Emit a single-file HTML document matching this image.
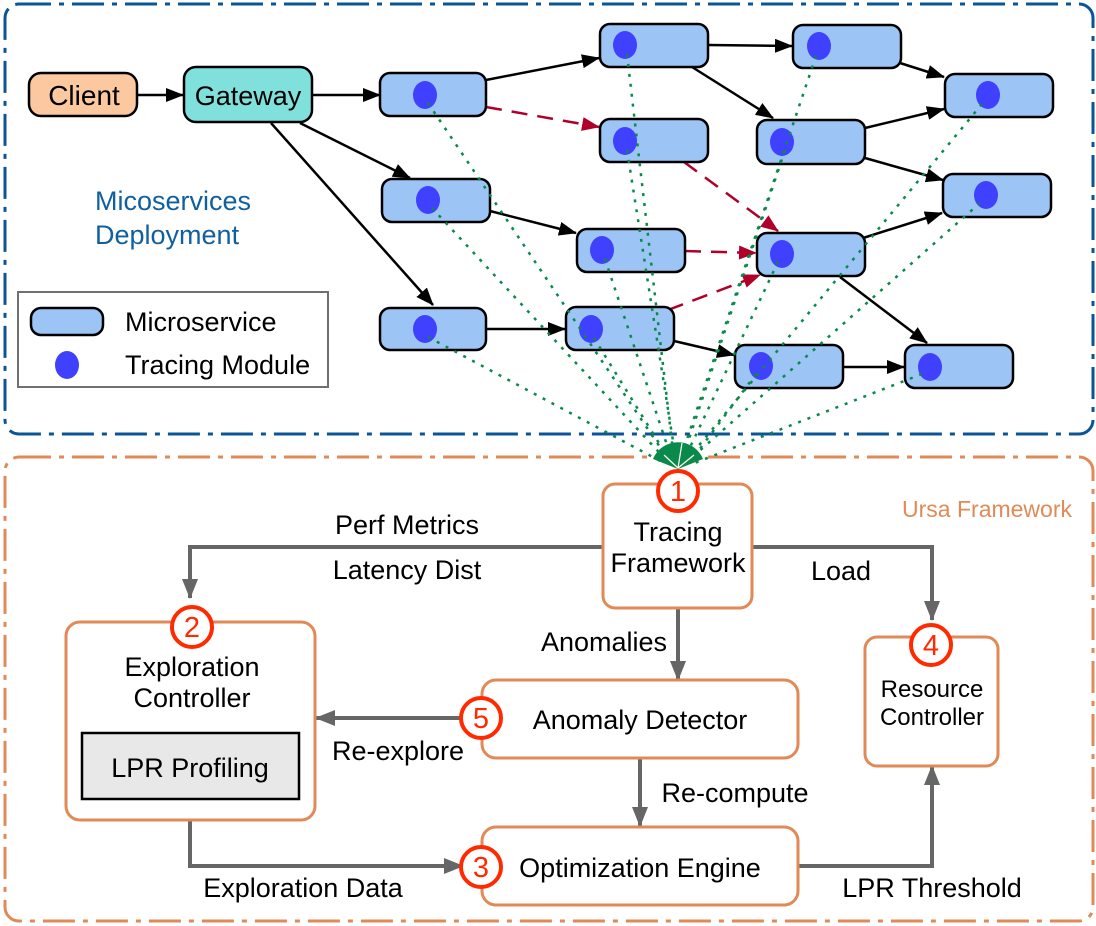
<!DOCTYPE html>
<html><head><meta charset="utf-8"><style>
html,body{margin:0;padding:0;background:#fff}
svg{display:block}
text{font-family:"Liberation Sans",sans-serif}
</style></head><body>
<svg width="1096" height="926" viewBox="0 0 1096 926" xmlns="http://www.w3.org/2000/svg">
<defs>
<marker id="abk" markerWidth="18" markerHeight="14" refX="17" refY="7" orient="auto" markerUnits="userSpaceOnUse"><path d="M0,0 L18,7 L0,14z" fill="#000"/></marker>
<marker id="ar" markerWidth="18" markerHeight="14" refX="17" refY="7" orient="auto" markerUnits="userSpaceOnUse"><path d="M0,0 L18,7 L0,14z" fill="#b0002a"/></marker>
<marker id="ag" markerWidth="20" markerHeight="16" refX="19" refY="8" orient="auto" markerUnits="userSpaceOnUse"><path d="M0,0 L20,8 L0,16z" fill="#666"/></marker>
</defs>
<rect x="5" y="4" width="1088" height="430" rx="14" fill="none" stroke="#0b5596" stroke-width="3" stroke-dasharray="32 8 5 8"/>
<rect x="5" y="457" width="1088" height="464" rx="14" fill="none" stroke="#e08a58" stroke-width="3" stroke-dasharray="32 8 5 8"/>

<g stroke="#000" stroke-width="2.5" fill="none" marker-end="url(#abk)">
<line x1="138" y1="95" x2="183" y2="95"/>
<line x1="312" y1="95" x2="380" y2="95"/>
<line x1="300" y1="123" x2="410" y2="178"/>
<line x1="271" y1="123" x2="433" y2="305"/>
<line x1="486" y1="80" x2="599" y2="58"/>
<line x1="708" y1="45" x2="792" y2="46"/>
<line x1="692" y1="67" x2="773" y2="118"/>
<line x1="900" y1="63" x2="944" y2="77"/>
<line x1="865" y1="128" x2="944" y2="109"/>
<line x1="865" y1="158" x2="943" y2="180"/>
<line x1="490" y1="211" x2="576" y2="233"/>
<line x1="486" y1="329" x2="565" y2="329"/>
<line x1="674" y1="341" x2="734" y2="355"/>
<line x1="863" y1="238" x2="942" y2="213"/>
<line x1="840" y1="277" x2="927" y2="343"/>
<line x1="843" y1="367" x2="904" y2="367"/>
</g>
<g stroke="#b0002a" stroke-width="2.5" fill="none" stroke-dasharray="16 10" marker-end="url(#ar)">
<line x1="486" y1="107" x2="599" y2="127"/>
<line x1="684" y1="162" x2="778" y2="231"/>
<line x1="685" y1="251" x2="756" y2="253"/>
<line x1="668" y1="310" x2="760" y2="275"/>
</g>

<rect x="29" y="73" width="108" height="43" rx="12" fill="#fcc8a0" stroke="#000" stroke-width="2.5"/>
<text x="84" y="105" font-size="28" text-anchor="middle">Client</text>
<rect x="184" y="67" width="128" height="55" rx="12" fill="#80e0dc" stroke="#000" stroke-width="2.5"/>
<text x="248" y="105" font-size="27" text-anchor="middle">Gateway</text>

<g stroke="#000" stroke-width="2.5" fill="#9cc5f5">
<rect x="380" y="73" width="106" height="43" rx="10"/>
<rect x="382" y="179" width="108" height="43" rx="10"/>
<rect x="380" y="308" width="106" height="42" rx="10"/>
<rect x="600" y="24" width="108" height="43" rx="10"/>
<rect x="600" y="119" width="108" height="43" rx="10"/>
<rect x="577" y="229" width="108" height="43" rx="10"/>
<rect x="566" y="307" width="108" height="43" rx="10"/>
<rect x="793" y="25" width="108" height="43" rx="10"/>
<rect x="757" y="120" width="108" height="44" rx="10"/>
<rect x="757" y="233" width="108" height="43" rx="10"/>
<rect x="945" y="74" width="108" height="43" rx="10"/>
<rect x="943" y="174" width="108" height="43" rx="10"/>
<rect x="735" y="345" width="108" height="43" rx="10"/>
<rect x="905" y="345" width="108" height="43" rx="10"/>
</g>
<g fill="#4040ff">
<ellipse cx="425" cy="95" rx="12" ry="14"/>
<ellipse cx="428" cy="200" rx="12" ry="14"/>
<ellipse cx="425" cy="329" rx="12" ry="14"/>
<ellipse cx="625" cy="45" rx="12" ry="14"/>
<ellipse cx="625" cy="141" rx="12" ry="14"/>
<ellipse cx="602" cy="250" rx="12" ry="14"/>
<ellipse cx="591" cy="329" rx="12" ry="14"/>
<ellipse cx="819" cy="46" rx="12" ry="14"/>
<ellipse cx="782" cy="142" rx="12" ry="14"/>
<ellipse cx="782" cy="254" rx="12" ry="14"/>
<ellipse cx="988" cy="95" rx="12" ry="14"/>
<ellipse cx="986" cy="195" rx="12" ry="14"/>
<ellipse cx="761" cy="366" rx="12" ry="14"/>
<ellipse cx="930" cy="367" rx="12" ry="14"/>
</g>
<g stroke="#0a8a4a" stroke-width="2.5" fill="none" stroke-dasharray="3 7">
<line x1="428" y1="103" x2="670" y2="462"/>
<line x1="432" y1="208" x2="668" y2="462"/>
<line x1="428" y1="337" x2="664" y2="463"/>
<line x1="627" y1="54" x2="674" y2="460"/>
<line x1="627" y1="150" x2="676" y2="460"/>
<line x1="605" y1="259" x2="672" y2="460"/>
<line x1="594" y1="338" x2="670" y2="461"/>
<line x1="816" y1="56" x2="680" y2="460"/>
<line x1="785" y1="150" x2="682" y2="460"/>
<line x1="778" y1="262" x2="684" y2="460"/>
<line x1="982" y1="104" x2="686" y2="461"/>
<line x1="980" y1="203" x2="688" y2="461"/>
<line x1="756" y1="374" x2="690" y2="462"/>
<line x1="922" y1="374" x2="692" y2="464"/>
</g>
<path d="M678,469 L653,459 A27,27 0 0 1 703,459 Z" fill="#0a8a4a"/>
<g stroke="#fff" stroke-width="1.2"><line x1="678" y1="468" x2="682" y2="443"/><line x1="678" y1="468" x2="664" y2="455"/><line x1="678" y1="468" x2="694" y2="455"/></g>

<text x="95" y="210" font-size="27" fill="#1060a0">Micoservices</text>
<text x="95" y="244" font-size="27" fill="#1060a0">Deployment</text>
<rect x="18" y="292" width="310" height="95" fill="#fff" stroke="#707070" stroke-width="2"/>
<rect x="31" y="308" width="72" height="27" rx="10" fill="#9cc5f5" stroke="#000" stroke-width="2.5"/>
<ellipse cx="67" cy="365" rx="12" ry="14" fill="#4040ff"/>
<text x="125" y="331" font-size="27">Microservice</text>
<text x="125" y="374" font-size="27">Tracing Module</text>

<g stroke="#666" stroke-width="4" fill="none">
<polyline points="602,547 190,547 190,598" marker-end="url(#ag)"/>
<polyline points="752,547 932,547 932,620" marker-end="url(#ag)"/>
<line x1="678" y1="608" x2="678" y2="680" marker-end="url(#ag)"/>
<line x1="463" y1="718" x2="316" y2="718" marker-end="url(#ag)"/>
<line x1="640" y1="758" x2="640" y2="826" marker-end="url(#ag)"/>
<polyline points="190,820 190,866 463,866" marker-end="url(#ag)"/>
<polyline points="798,866 932,866 932,766" marker-end="url(#ag)"/>
</g>

<g fill="#fff" stroke="#e08a58" stroke-width="3">
<rect x="603" y="484" width="149" height="124" rx="12"/>
<rect x="482" y="680" width="316" height="78" rx="14"/>
<rect x="482" y="827" width="316" height="78" rx="14"/>
<rect x="865" y="637" width="133" height="129" rx="12"/>
<rect x="66" y="622" width="249" height="198" rx="14"/>
</g>
<rect x="82" y="733" width="217" height="66" fill="#e8e8e8" stroke="#000" stroke-width="2.5"/>
<text x="190" y="777" font-size="27" text-anchor="middle">LPR Profiling</text>

<g fill="#fff" stroke="#ff2a00" stroke-width="4">
<circle cx="678" cy="491" r="20"/>
<circle cx="192" cy="627" r="20"/>
<circle cx="481" cy="718" r="20"/>
<circle cx="481" cy="867" r="20"/>
<circle cx="931" cy="645" r="20"/>
</g>
<g fill="#ff2a00" font-size="29" text-anchor="middle">
<text x="678" y="501">1</text>
<text x="192" y="637">2</text>
<text x="481" y="728">5</text>
<text x="481" y="877">3</text>
<text x="931" y="655">4</text>
</g>

<g font-size="27" text-anchor="middle">
<text x="678" y="541">Tracing</text>
<text x="678" y="572">Framework</text>
<text x="192" y="676">Exploration</text>
<text x="192" y="707">Controller</text>
<text x="640" y="729">Anomaly Detector</text>
<text x="640" y="877">Optimization Engine</text>
<text x="407" y="534">Perf Metrics</text>
<text x="407" y="579">Latency Dist</text>
<text x="398" y="760">Re-explore</text>
<text x="303" y="897">Exploration Data</text>
<text x="932" y="897">LPR Threshold</text>
<text x="604" y="651">Anomalies</text>
<text x="735" y="802">Re-compute</text>
<text x="841" y="580">Load</text>
</g>
<g font-size="24" text-anchor="middle">
<text x="932" y="697">Resource</text>
<text x="932" y="725">Controller</text>
</g>
<text x="1072" y="517" font-size="23" fill="#e08a58" text-anchor="end">Ursa Framework</text>
</svg>
</body></html>
